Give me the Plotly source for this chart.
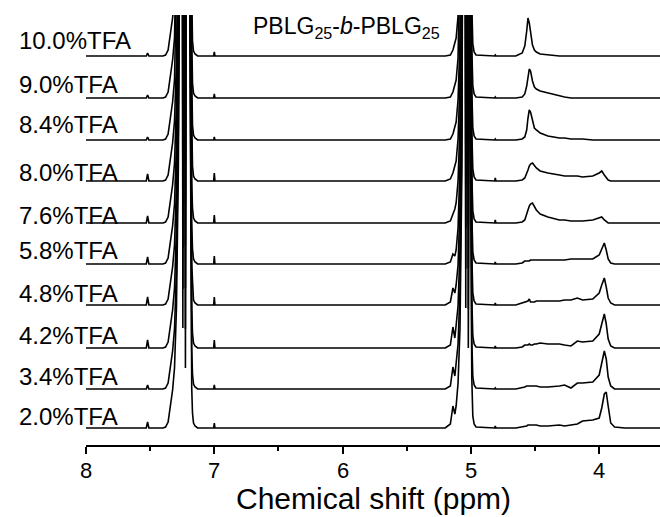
import plotly.graph_objects as go

# ---------------- data ----------------
labels = ["10.0%TFA", "9.0%TFA", "8.4%TFA", "8.0%TFA", "7.6%TFA",
          "5.8%TFA", "4.8%TFA", "4.2%TFA", "3.4%TFA", "2.0%TFA"]
tick_values = [8, 7, 6, 5, 4]
tick_labels = ["8", "7", "6", "5", "4"]
minor_ticks = [7.5, 6.5, 5.5, 4.5]

# aromatic region (shared line shape; the multiplet runs far off-scale)
arom_ppm = [8.00, 7.53, 7.52, 7.51, 7.40, 7.38, 7.36, 7.345, 7.335, 7.325, 7.31, 7.295, 7.28,
            7.265, 7.255, 7.245, 7.235, 7.225, 7.212, 7.198, 7.19, 7.183, 7.176, 7.17, 7.162,
            7.15, 7.13, 7.005, 7.00, 6.995]
arom_int = [0, 0, 0, 0, 0, 1, 6, 20, 32, 38, 60, 120, 260,
            600, 1500, 100, 1500, 60, 1800, 1500, 400, 120, 40, 15, 5,
            2, 0, 0, 0, 0]
spike_752 = [3, 3, 3, 7, 7, 7, 8, 8, 4, 6]
spike_700 = [4, 4, 3, 8, 8, 8, 8, 8, 4, 5]

# benzyl CH2 region (multiplet off-scale)
benz_ppm = [5.20, 5.16, 5.14, 5.125, 5.115, 5.10, 5.085, 5.07, 5.06, 5.05, 5.04, 5.03, 5.02,
            5.012, 5.005, 5.00, 4.993, 4.985, 4.975, 4.96]
benz_int = [
    [0, 1, 6, 12, 18, 40, 100, 260, 700, 1500, 120, 1600, 80, 1500, 600, 200, 50, 12, 4, 1],
    [0, 1, 6, 12, 18, 40, 100, 260, 700, 1500, 120, 1600, 80, 1500, 600, 200, 50, 12, 4, 1],
    [0, 1, 6, 12, 18, 40, 100, 260, 700, 1500, 120, 1600, 80, 1500, 600, 200, 50, 12, 4, 1],
    [0, 2, 8, 14, 20, 42, 100, 260, 700, 1500, 120, 1600, 80, 1500, 600, 200, 50, 12, 4, 1],
    [0, 2, 8, 14, 20, 42, 100, 260, 700, 1500, 120, 1600, 80, 1500, 600, 200, 50, 12, 4, 1],
    [0, 2, 10, 8, 14, 36, 100, 260, 700, 1500, 120, 1600, 80, 1500, 600, 200, 50, 12, 4, 1],
    [0, 3, 17, 12, 20, 40, 100, 260, 700, 1500, 120, 1600, 80, 1500, 600, 200, 50, 12, 4, 1],
    [0, 3, 21, 10, 22, 42, 100, 260, 700, 1500, 120, 1600, 80, 1500, 600, 200, 50, 12, 4, 1],
    [0, 3, 22, 13, 24, 45, 100, 260, 700, 1500, 120, 1600, 80, 1500, 600, 200, 50, 12, 4, 1],
    [0, 4, 22, 14, 22, 45, 100, 260, 700, 1500, 120, 1600, 80, 1500, 600, 200, 50, 12, 4, 1],
]

# alpha-CH region (helix 4.55 ppm / coil 3.95 ppm)
alpha_ppm = [4.815, 4.81, 4.805, 4.65, 4.60, 4.58, 4.565, 4.555, 4.545, 4.535, 4.52, 4.505, 4.49, 4.46, 4.40,
             4.31, 4.27, 4.22, 4.17, 4.13, 4.05, 4.00, 3.98, 3.96, 3.945, 3.93, 3.91, 3.88, 3.80, 3.526]
alpha_int = [
    [0, 1, 0, 0, 3, 10, 25, 38, 33, 22, 11, 6, 4, 2, 1, 0, 0, 0, 0, 0, 0, 0, 0, 0, 0, 0, 0, 0, 0, 0],
    [0, 1, 0, 0, 1, 4, 12, 22, 29, 27, 17, 11, 9, 7, 5, 2, 1, 0, 0, 0, 0, 0, 0, 0, 0, 0, 0, 0, 0, 0],
    [0, 1, 0, 0, 1, 3, 10, 22, 30, 28, 19, 12, 10, 7, 4, 2, 2, 1, 1, 1, 0, 0, 0, 0, 0, 0, 0, 0, 0, 0],
    [0, 3, 0, 0, 1, 3, 7, 11, 15, 17, 18, 15, 13, 10, 8, 6, 5, 5, 5, 4, 5, 8, 10, 6, 3, 1, 0, 0, 0, 0],
    [0, 3, 0, 0, 1, 3, 8, 13, 17, 19, 20, 16, 13, 9, 6, 3, 3, 2, 2, 2, 3, 5, 6, 3, 1, 0, 0, 0, 0, 0],
    [0, 2, 0, 0, 1, 3, 3, 3, 3, 4, 4, 4, 4, 4, 4, 4, 4, 5, 5, 5, 5, 9, 15, 21, 14, 5, 1, 0, 0, 0],
    [0, 2, 0, 0, 2, 3, 3, 4, 6, 3, 3, 3, 4, 4, 4, 4, 5, 5, 7, 5, 6, 12, 20, 27, 18, 7, 2, 0, 0, 0],
    [0, 2, 0, 0, 1, 3, 3, 3, 4, 3, 3, 4, 4, 5, 4, 4, 3, 2, 7, 6, 7, 14, 24, 34, 24, 9, 2, 0, 0, 0],
    [0, 1, 0, 0, 1, 2, 3, 3, 3, 3, 3, 3, 3, 2, 2, 3, 4, 1, 6, 6, 7, 14, 26, 38, 30, 12, 3, 0, 0, 0],
    [0, 2, 0, 0, 1, 2, 2, 3, 3, 3, 3, 3, 3, 2, 2, 3, 2, 3, 4, 7, 8, 10, 20, 34, 36, 22, 5, 1, 0, 0],
]

# vertical stacking offsets of each spectrum (intensity units)
stack_offsets = [389, 347, 305, 264, 222, 181, 140, 97, 56, 17]

assert len(arom_ppm) == len(arom_int)
for row in benz_int:
    assert len(row) == len(benz_ppm)
for row in alpha_int:
    assert len(row) == len(alpha_ppm)

# ---------------- figure ----------------
FONT = "Arial, Liberation Sans, sans-serif"
fig = go.Figure()

i752 = arom_ppm.index(7.52)
i700 = arom_ppm.index(7.00)
for k, lab in enumerate(labels):
    a = list(arom_int)
    a[i752] += spike_752[k]
    a[i700] += spike_700[k]
    xs = arom_ppm + benz_ppm + alpha_ppm
    ys = [v + stack_offsets[k] for v in a + benz_int[k] + alpha_int[k]]
    fig.add_trace(go.Scatter(x=xs, y=ys, mode="lines", name=lab,
                             line=dict(color="black", width=1.6), hoverinfo="skip"))

label_dy = [16, 14, 16, 9, 8, 14, 12, 13, 13, 12]
label_x = -0.12  # paper units, left of the plot area
for k, lab in enumerate(labels):
    fig.add_annotation(x=label_x, y=stack_offsets[k] + label_dy[k], xref="paper", yref="y",
                       text=lab, showarrow=False, xanchor="left", yanchor="middle",
                       font=dict(family=FONT, size=24, color="black"))

# tick labels drawn as text below the axis
for v, t in zip(tick_values, tick_labels):
    fig.add_annotation(x=v, y=-0.06, xref="x", yref="paper", text=t, showarrow=False,
                       xanchor="center", yanchor="middle",
                       font=dict(family=FONT, size=22, color="black"))

fig.add_annotation(x=5.97, y=418, xref="x", yref="y",
                   text="PBLG<sub>25</sub>-<i>b</i>-PBLG<sub>25</sub>", showarrow=False,
                   xanchor="center", yanchor="middle",
                   font=dict(family=FONT, size=23, color="black"))

fig.add_annotation(x=0.5, y=-0.125, xref="paper", yref="paper",
                   text="Chemical shift (ppm)", showarrow=False,
                   xanchor="center", yanchor="middle",
                   font=dict(family=FONT, size=30, color="black"))

fig.update_layout(
    width=660, height=517,
    margin=dict(l=86, r=0, t=15, b=72, pad=0),
    paper_bgcolor="white", plot_bgcolor="white",
    showlegend=False,
    xaxis=dict(range=[8, 3.526], tickvals=tick_values, showticklabels=False,
               ticks="outside", ticklen=7, tickwidth=1.5, tickcolor="black",
               showline=True, linewidth=1.5, linecolor="black",
               showgrid=False, zeroline=False,
               minor=dict(tickvals=minor_ticks, ticks="outside", ticklen=4,
                          tickwidth=1.5, tickcolor="black", showgrid=False)),
    yaxis=dict(range=[0, 430], visible=False, showgrid=False, zeroline=False),
)

fig.write_html("out.html")
